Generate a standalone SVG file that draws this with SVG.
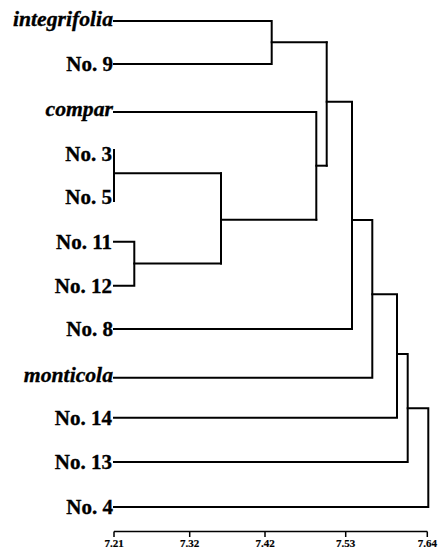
<svg xmlns="http://www.w3.org/2000/svg" width="438" height="551" viewBox="0 0 438 551">
  <style>
    .lbl { font-family: "Liberation Serif", "Times New Roman", serif; font-weight: bold; font-size: 21px; fill: #000; stroke: #000; stroke-width: 0.35; text-anchor: end; }
    .sp { font-style: italic; font-size: 21.7px; }
    .tick { font-family: "Liberation Serif", "Times New Roman", serif; font-weight: bold; font-size: 11px; fill: #000; stroke: #000; stroke-width: 0.2; text-anchor: middle; }
    .br { fill: none; stroke: #000; stroke-width: 2; stroke-linecap: square; stroke-linejoin: miter; }
    .ax { fill: none; stroke: #000; stroke-width: 1.5; }
  </style>
  <rect width="438" height="551" fill="#fff"/>

  <!-- leaf labels -->
  <g id="leaf-integrifolia"><text class="lbl sp" x="113" y="26">integrifolia</text></g>
  <g id="leaf-no9"><text class="lbl" x="113" y="71">No. 9</text></g>
  <g id="leaf-compar"><text class="lbl sp" x="113" y="116">compar</text></g>
  <g id="leaf-no3"><text class="lbl" x="112" y="161">No. 3</text></g>
  <g id="leaf-no5"><text class="lbl" x="112" y="204">No. 5</text></g>
  <g id="leaf-no11"><text class="lbl" x="112" y="249">No. 11</text></g>
  <g id="leaf-no12"><text class="lbl" x="112" y="293">No. 12</text></g>
  <g id="leaf-no8"><text class="lbl" x="113" y="336">No. 8</text></g>
  <g id="leaf-monticola"><text class="lbl sp" x="113" y="382">monticola</text></g>
  <g id="leaf-no14"><text class="lbl" x="112" y="425">No. 14</text></g>
  <g id="leaf-no13"><text class="lbl" x="112" y="469">No. 13</text></g>
  <g id="leaf-no4"><text class="lbl" x="113" y="514">No. 4</text></g>

  <!-- dendrogram branches -->
  <g id="connectors">
    <path class="br" d="M114,21 H271.7 V64 H114"/>
    <path class="br" d="M271.7,42.3 H326.7"/>
    <path class="br" d="M114,112 H316.3 V219.7"/>
    <path class="br" d="M114,150 V201"/>
    <path class="br" d="M114,173.3 H221"/>
    <path class="br" d="M114,241.7 H134.3 V285.7 H114"/>
    <path class="br" d="M134.3,263.5 H221"/>
    <path class="br" d="M221,173.3 V263.5"/>
    <path class="br" d="M221,219.7 H316.3"/>
    <path class="br" d="M316.3,165.7 H326.7"/>
    <path class="br" d="M326.7,42.3 V165.7"/>
    <path class="br" d="M326.7,101.7 H352 V329 H114"/>
    <path class="br" d="M352,220 H372.3 V377.7 H114"/>
    <path class="br" d="M372.3,294.3 H397 V417.7 H114"/>
    <path class="br" d="M397,354 H407.7 V462 H114"/>
    <path class="br" d="M407.7,408.3 H428.3 V507 H114"/>
  </g>

  <!-- distance scale -->
  <g id="axis">
    <path class="ax" d="M114,531.5 H427.3 M114,531.5 V537 M189.7,531.5 V537 M265,531.5 V537 M345.7,531.5 V537 M427.3,531.5 V537"/>
    <text class="tick" x="114" y="547">7.21</text>
    <text class="tick" x="189.7" y="547">7.32</text>
    <text class="tick" x="265" y="547">7.42</text>
    <text class="tick" x="345.7" y="547">7.53</text>
    <text class="tick" x="427.3" y="547">7.64</text>
  </g>
</svg>
